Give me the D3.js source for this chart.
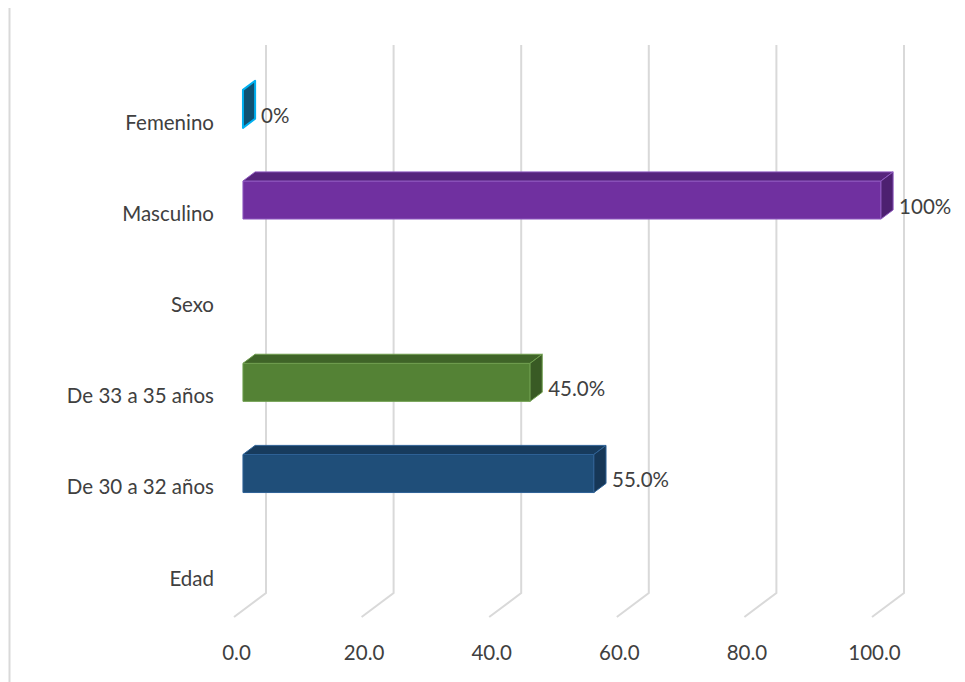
<html>
<head>
    <meta charset="utf-8">
    <style>
        body {margin:0; background:#fff;}
        text {font-family: Lato, "Open Sans", sans-serif; fill:#404040;}
    </style>
    <script src="https://d3js.org/d3.v7.min.js"></script>
</head>
<body>
    <script>
        // categories from top to bottom
        var categories = ["Femenino", "Masculino", "Sexo", "De 33 a 35 años", "De 30 a 32 años", "Edad"];
        var values = [0, 100, null, 45, 55, null];
        var valueLabels = ["0%", "100%", "", "45.0%", "55.0%", ""];
        var ticks = [0, 20, 40, 60, 80, 100];

        // front / top / side colours of each bar
        var frontColors = ["#146c96", "#7030a0", null, "#548235", "#1f4e79", null];
        var topColors   = ["#10577a", "#56247c", null, "#3f6428", "#173b5d", null];
        var sideColors  = ["#0f5273", "#4d2070", null, "#395a24", "#163757", null];
        var edgeColors  = ["#00b0f0", "#8f5ac0", null, "#6f9e4e", "#2f6296", null];

        var svg_width = 965, svg_height = 682;
        var fontSize = "20.5px";

        // depth of the 3d box (floor)
        var DX = 32, DY = 24;
        // bar depth range (fraction of the box depth)
        var d0 = 0.28, d1 = 0.66;

        var svg = d3.select("body").append("svg")
            .attr("width", svg_width)
            .attr("height", svg_height);

        var x = d3.scaleLinear().domain([0, 100]).range([234, 872]);
        var y = d3.scaleBand().domain(categories).range([70, 617])
            .paddingInner(0.583).paddingOuter(0.2915);

        function px(v, d) { return x(v) + DX * d; }
        function py(yy, d) { return yy - DY * d; }

        // chart border (left edge)
        svg.append("line")
            .attr("x1", 9.5).attr("x2", 9.5)
            .attr("y1", 8).attr("y2", 682)
            .attr("stroke", "#d9d9d9").attr("stroke-width", 2);

        // gridlines: back wall + floor
        var floorY = y.range()[1];
        var topY = y.range()[0];
        svg.append("g")
            .attr("fill", "none")
            .attr("stroke", "#d9d9d9")
            .attr("stroke-width", 2)
            .selectAll("path")
            .data(ticks)
            .join("path")
            .attr("d", d => `M${px(d, 1)},${py(topY, 1) - 1}
                L${px(d, 1)},${py(floorY, 1)}
                L${px(d, 0)},${py(floorY, 0)}`);

        // tick labels
        svg.append("g")
            .attr("transform", `translate(2,${floorY + 25})`)
            .call(d3.axisBottom(x).tickValues(ticks).tickSize(0).tickFormat(d3.format(".1f")))
            .call(g => g.select(".domain").remove())
            .call(g => g.selectAll("text").style("font-size", fontSize).style("font-family", null).attr("fill", null));

        // category labels
        svg.append("g")
            .selectAll("text")
            .data(categories)
            .join("text")
            .attr("x", 214)
            .attr("y", d => y(d) + y.bandwidth() / 2 + 7)
            .attr("dy", "0.35em")
            .attr("text-anchor", "end")
            .style("font-size", fontSize)
            .text(d => d);

        // bars
        var barData = categories.map((c, i) => ({cat: c, v: values[i], i: i}))
            .filter(d => d.v !== null);

        var bars = svg.append("g")
            .selectAll("g")
            .data(barData)
            .join("g")
            .attr("stroke-width", 1)
            .attr("stroke-linejoin", "round");

        bars.append("path") // front
            .attr("fill", d => frontColors[d.i])
            .attr("stroke", d => edgeColors[d.i])
            .attr("d", d => {
                var t = y(d.cat), b = t + y.bandwidth();
                return `M${px(0, d0)},${py(t, d0)} L${px(d.v, d0)},${py(t, d0)}
                    L${px(d.v, d0)},${py(b, d0)} L${px(0, d0)},${py(b, d0)}Z`;
            });

        bars.append("path") // top
            .attr("fill", d => topColors[d.i])
            .attr("stroke", d => edgeColors[d.i])
            .attr("d", d => {
                var t = y(d.cat);
                return `M${px(0, d0)},${py(t, d0)} L${px(d.v, d0)},${py(t, d0)}
                    L${px(d.v, d1)},${py(t, d1)} L${px(0, d1)},${py(t, d1)}Z`;
            });

        bars.append("path") // side
            .attr("fill", d => sideColors[d.i])
            .attr("stroke", d => edgeColors[d.i])
            .attr("stroke-width", d => d.v === 0 ? 2 : 1)
            .attr("d", d => {
                var t = y(d.cat), b = t + y.bandwidth();
                return `M${px(d.v, d0)},${py(t, d0)} L${px(d.v, d1)},${py(t, d1)}
                    L${px(d.v, d1)},${py(b, d1)} L${px(d.v, d0)},${py(b, d0)}Z`;
            });

        // value labels
        bars.append("text")
            .attr("x", d => px(d.v, d1) + 6)
            .attr("y", d => y(d.cat) + y.bandwidth() / 2)
            .attr("dy", "0.35em")
            .attr("stroke", "none")
            .style("font-size", fontSize)
            .text(d => valueLabels[d.i]);
    </script>
</body>
</html>
